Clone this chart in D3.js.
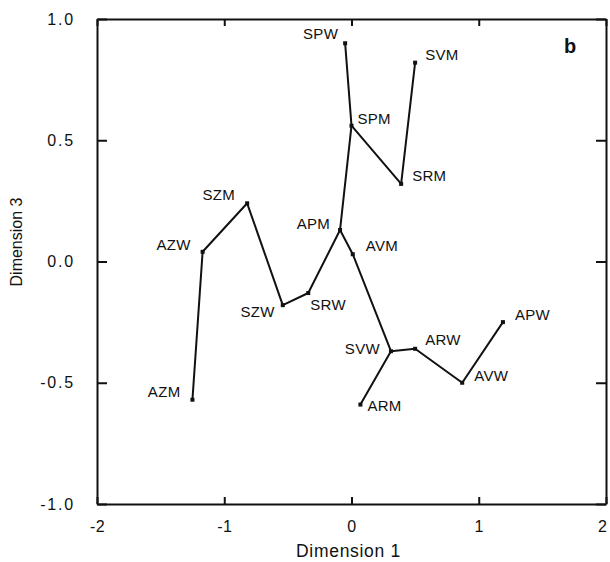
<!DOCTYPE html>
<html lang="en">
    <head>
        <meta charset="UTF-8">
        <script src="https://unpkg.com/d3@7/dist/d3.min.js"></script>
        <title>Dimension 1 vs Dimension 3</title>
        <style>
            body { margin: 0; background: #fff; }
            text { font-family: "Liberation Sans", Arial, sans-serif; fill: #111; }
        </style>
    </head>
    <body>
        <script type="text/javascript">
            // Stimulus labels and their coordinates
            var labels = ["SPW", "SPM", "SRM", "SVM", "APM", "AVM", "SZM", "AZW", "SZW",
                          "SRW", "AZM", "SVW", "ARW", "AVW", "APW", "ARM"];
            var dim1 = [-0.05, 0.00, 0.39, 0.50, -0.09, 0.01, -0.82, -1.17, -0.54,
                        -0.34, -1.25, 0.31, 0.50, 0.87, 1.19, 0.07];
            var dim3 = [0.90, 0.56, 0.32, 0.82, 0.13, 0.03, 0.24, 0.04, -0.18,
                        -0.13, -0.57, -0.37, -0.36, -0.50, -0.25, -0.59];

            // Connections between stimuli
            var links = [["AZM", "AZW"], ["AZW", "SZM"], ["SZM", "SZW"], ["SZW", "SRW"],
                         ["SRW", "APM"], ["APM", "AVM"], ["AVM", "SVW"], ["SVW", "ARW"],
                         ["ARW", "AVW"], ["AVW", "APW"], ["SVW", "ARM"], ["APM", "SPM"],
                         ["SPM", "SPW"], ["SPM", "SRM"], ["SRM", "SVM"]];

            var xTicks = [-2, -1, 0, 1, 2];
            var yTicks = [-1.0, -0.5, 0.0, 0.5, 1.0];

            // label placement: [dx, dy, anchor]
            var labelPos = {
                SPW: [-7, -4, "end"], SPM: [6, -2, "start"], SRM: [11, -3, "start"],
                SVM: [10, -3, "start"], APM: [-10, -1, "end"], AVM: [13, -3, "start"],
                SZM: [-12, -3, "end"], AZW: [-12, -2, "end"], SZW: [-8, 12, "end"],
                SRW: [2, 17, "start"], AZM: [-12, -3, "end"], SVW: [-11, 3, "end"],
                ARW: [10, -4, "start"], AVW: [12, -2, "start"], APW: [12, -2, "start"],
                ARM: [7, 6, "start"]
            };

            var margin = { top: 19, right: 4, bottom: 58, left: 97 };
            var width = 610 - margin.left - margin.right;
            var height = 562 - margin.top - margin.bottom;

            var svg = d3.select("body")
                .append("svg")
                .attr("width", 610)
                .attr("height", 562);

            var g = svg.append("g")
                .attr("transform", "translate(" + margin.left + "," + margin.top + ")");

            var xScale = d3.scaleLinear().domain([-2, 2]).range([0, width]);
            var yScale = d3.scaleLinear().domain([-1, 1]).range([height, 0]);

            // plain hyphen for negatives, like the original
            function fmt(spec) {
                var f = d3.format(spec);
                return function(d) { return f(d).replace("\u2212", "-"); };
            }

            // Axes with inward ticks on all four sides
            var axisBottom = d3.axisBottom(xScale).tickValues(xTicks)
                .tickSize(-7).tickSizeOuter(0).tickPadding(17)
                .tickFormat(fmt("d"));
            var axisTop = d3.axisTop(xScale).tickValues(xTicks)
                .tickSize(-7).tickSizeOuter(0).tickFormat("");
            var axisLeft = d3.axisLeft(yScale).tickValues(yTicks)
                .tickSize(-10).tickSizeOuter(0).tickPadding(22)
                .tickFormat(fmt(".1f"));
            var axisRight = d3.axisRight(yScale).tickValues(yTicks)
                .tickSize(-10).tickSizeOuter(0).tickFormat("");

            var gx = g.append("g").attr("class", "axis")
                .attr("transform", "translate(0," + height + ")")
                .call(axisBottom);
            g.append("g").attr("class", "axis").call(axisTop);
            var gy = g.append("g").attr("class", "axis").call(axisLeft);
            g.append("g").attr("class", "axis")
                .attr("transform", "translate(" + width + ",0)")
                .call(axisRight);

            g.selectAll(".axis path, .axis line")
                .attr("stroke", "#111")
                .attr("stroke-width", 2);
            g.selectAll(".axis text")
                .style("font-size", "16px")
                .attr("fill", "#111");
            gy.selectAll("text").style("letter-spacing", "1.8px");
            gx.selectAll("text").style("letter-spacing", "0.5px");
            // last x label sits against the right edge
            gx.selectAll(".tick:last-of-type text")
                .attr("text-anchor", "end")
                .attr("dx", 1);

            // Lookup from label to coordinates
            var points = labels.map(function(d, i) {
                return { name: d, x: dim1[i], y: dim3[i] };
            });
            var byName = {};
            points.forEach(function(p) { byName[p.name] = p; });

            g.selectAll(".link")
                .data(links)
                .enter()
                .append("line")
                .attr("class", "link")
                .attr("x1", function(d) { return xScale(byName[d[0]].x); })
                .attr("y1", function(d) { return yScale(byName[d[0]].y); })
                .attr("x2", function(d) { return xScale(byName[d[1]].x); })
                .attr("y2", function(d) { return yScale(byName[d[1]].y); })
                .attr("stroke", "#111")
                .attr("stroke-width", 2)
                .attr("stroke-linecap", "round");

            g.selectAll(".pt")
                .data(points)
                .enter()
                .append("rect")
                .attr("class", "pt")
                .attr("x", function(d) { return xScale(d.x) - 2; })
                .attr("y", function(d) { return yScale(d.y) - 2; })
                .attr("width", 4)
                .attr("height", 4)
                .attr("fill", "#111");

            g.selectAll(".lbl")
                .data(points)
                .enter()
                .append("text")
                .attr("class", "lbl")
                .attr("x", function(d) { return xScale(d.x) + labelPos[d.name][0]; })
                .attr("y", function(d) { return yScale(d.y) + labelPos[d.name][1]; })
                .attr("text-anchor", function(d) { return labelPos[d.name][2]; })
                .style("font-size", "15px")
                .style("letter-spacing", "0.3px")
                .text(function(d) { return d.name; });

            // panel letter
            g.append("text")
                .attr("x", width - 36)
                .attr("y", 34)
                .attr("text-anchor", "middle")
                .style("font-size", "20px")
                .style("font-weight", "bold")
                .text("b");

            // axis titles
            svg.append("text")
                .attr("x", margin.left + width / 2 - 3)
                .attr("y", 557)
                .attr("text-anchor", "middle")
                .style("font-size", "17.5px")
                .style("letter-spacing", "0.7px")
                .text("Dimension 1");

            svg.append("text")
                .attr("transform", "translate(22,242) rotate(-90)")
                .attr("text-anchor", "middle")
                .style("font-size", "16px")
                .text("Dimension 3");
        </script>
    </body>
</html>
